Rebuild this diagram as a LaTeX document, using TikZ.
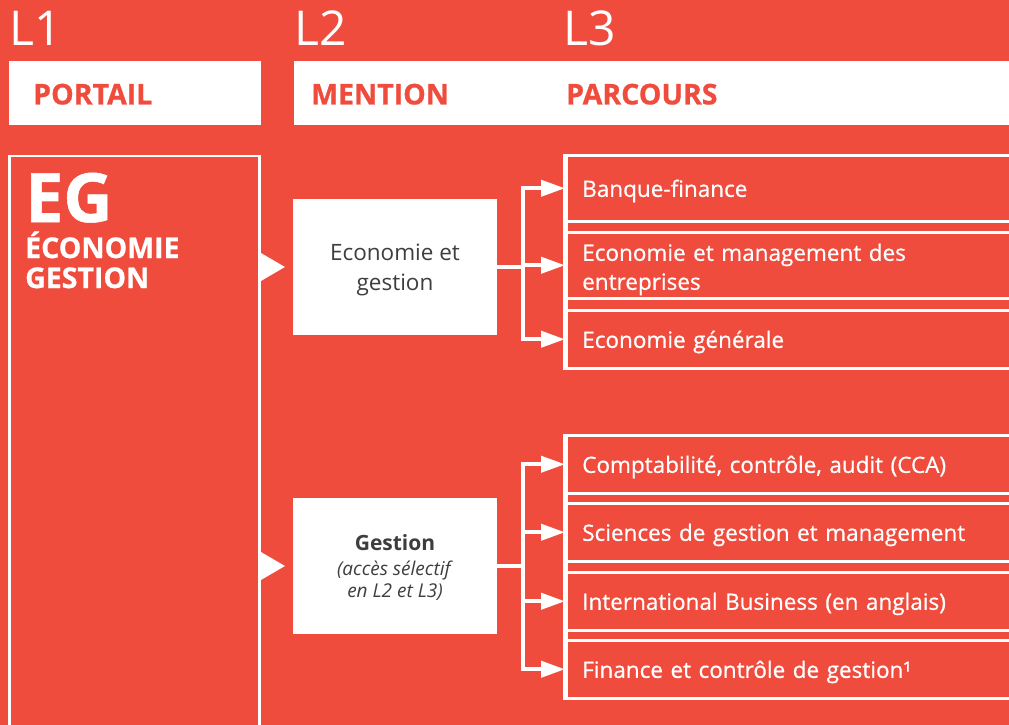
\documentclass[tikz,border=0pt]{standalone}
\usepackage{fontspec}
\setmainfont{Open Sans}
\newfontfamily\semifont{Open Sans}[FakeBold=0.7]
\newfontfamily\heavyfont{Open Sans Bold}[FakeBold=0.8]
\usepackage{tikz}
\usetikzlibrary{arrows.meta,calc}
\definecolor{egred}{RGB}{239,76,62}
\definecolor{eggray}{RGB}{62,62,62}
\tikzset{
  eg schemes/.style = {
    x = 1pt, y = -1pt,
    % En-tetes
    hd/.style      = {fill=white, minimum height=64pt, inner sep=0pt, anchor=north west},
    hd text/.style = {text=egred, font=\heavyfont\fontsize{28.5}{32}\selectfont,
                      inner sep=0pt, anchor=west},
    year/.style    = {text=white, font=\fontsize{48}{50}\selectfont,
                      inner sep=0pt, anchor=base west},
    % Portail
    portail box/.style = {draw=white, line width=2.5pt, minimum width=250pt,
                          minimum height=700pt, anchor=north west},
    eg big/.style  = {text=white, font=\heavyfont\fontsize{68}{68}\selectfont,
                      inner sep=0pt, anchor=base west},
    eg sub/.style  = {text=white, font=\heavyfont\fontsize{28.5}{30}\selectfont,
                      inner sep=0pt, anchor=base west},
    % Mentions
    mention box/.style = {fill=white, text=eggray, minimum width=204pt,
                          minimum height=136pt, align=center, text depth=0pt,
                          font=\fontsize{22.5}{30}\selectfont},
    % Parcours
    pc/.style      = {draw=white, line width=2.5pt, minimum height=##1,
                      anchor=north west, text=white, align=left,
                      text width=438pt, inner xsep=16pt, text depth=0pt,
                      font=\semifont\fontsize{22.5}{29}\selectfont},
    pc/.default    = 58pt,
    % Lignes, fleches
    feed line/.style   = {white, line width=0.1pt,
                          -{Triangle[length=24pt,width=28pt]}, shorten >=8pt},
    branch line/.style = {white, line width=4pt,
                          -{Triangle[length=24pt,width=16pt]}},
    bar line/.style    = {white, line width=5pt},
  }
}
\begin{document}
\begin{tikzpicture}[eg schemes]
\useasboundingbox (0,0) rectangle (1009,725);
\clip (0,0) rectangle (1009,725);
\fill[egred] (0,0) rectangle (1009,725);

% en-tetes
\node[hd, minimum width=252pt] (portail)  at (9,61)   {};
\node[hd, minimum width=271pt] (mention)  at (294,61) {};
\node[hd, minimum width=450pt] (parcours) at (565,61) {};
\node[hd text] (portailtxt)  at ([xshift=24pt,yshift=-1pt]portail.west)  {PORTAIL};
\node[hd text] (mentiontxt)  at ([xshift=17pt,yshift=-1pt]mention.west)  {MENTION};
\node[hd text] (parcourstxt) at ([xshift=1pt,yshift=-1pt]parcours.west)  {PARCOURS};
\node[year] (l1) at ([yshift=15pt]portail.north west)             {L1};
\node[year] (l2) at ([yshift=15pt]mention.north west)             {L2};
\node[year] (l3) at ([xshift=-2pt,yshift=15pt]parcours.north west) {L3};

% portail
\node[portail box] (eg) at (8.25,154.75) {};
\node[eg big] (egname) at (25,222) {EG};
\node[eg sub] (egeco)  at (25,258) {ÉCONOMIE};
\node[eg sub] (eggest) at (25,288) {GESTION};

% mentions
\node[mention box] (eco) at (395,267) {Economie et\\gestion};
\node[mention box, font=\fontsize{19}{22}\selectfont] (ges) at (395,566)
  {{\bfseries\fontsize{21}{26}\selectfont Gestion}\\[3pt]
   \textit{(accès sélectif}\\ \textit{en L2 et L3)}};
\draw[feed line] (eg.east |- eco.west) -- (eco.west);
\draw[feed line] (eg.east |- ges.west) -- (ges.west);

% parcours
\node[pc=66pt] (bq)   at (565,154) {Banque-finance};
\node[pc=66pt, text depth=26pt] (eme) at (565,231) {Economie et management des\\entreprises};
\node[pc]      (egen) at (565,309) {Economie générale};
\node[pc]      (cca)  at (565,434) {Comptabilité, contrôle, audit (CCA)};
\node[pc]      (sgm)  at (565,502) {Sciences de gestion et management};
\node[pc]      (ib)   at (565,571) {International Business (en anglais)};
\node[pc]      (fcg)  at (565,639) {Finance et contrôle de gestion¹};
\draw[bar line] (bq.north west)  -- (egen.south west);
\draw[bar line] (cca.north west) -- (fcg.south west);

\foreach \p in {bq,eme,egen}
  \draw[branch line] (eco.east) -- ++(26,0) |- (\p.west);
\foreach \p in {cca,sgm,ib,fcg}
  \draw[branch line] (ges.east) -- ++(26,0) |- (\p.west);
\end{tikzpicture}
\end{document}
